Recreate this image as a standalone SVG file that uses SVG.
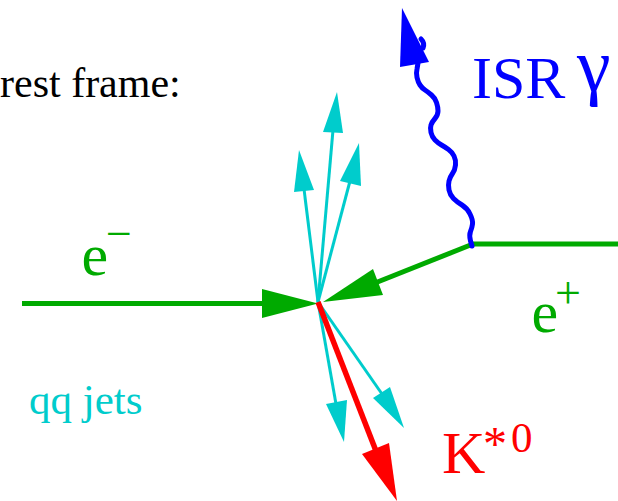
<svg xmlns="http://www.w3.org/2000/svg" width="618" height="501" viewBox="0 0 618 501">
<style>
text{font-family:"Liberation Serif","Times New Roman",serif}
.g{stroke:#00aa00;stroke-width:5;fill:none}
.gf{fill:#00aa00}
.c{stroke:#00cccc;stroke-width:3;fill:none}
.cf{fill:#00cccc}
.r{stroke:#ff0000;stroke-width:5.5;fill:none}
.rf{fill:#ff0000}
.b{stroke:#0000ff;stroke-width:5;fill:none;stroke-linecap:round;stroke-linejoin:round}
.bf{fill:#0000ff}
</style>
<rect width="618" height="501" fill="#ffffff"/>
<g id="connectors">
  <!-- e- beam -->
  <line class="g" x1="22" y1="303.5" x2="270" y2="303.5"/>
  <polygon class="gf" points="262,289 262,318 318,303.5"/>
  <!-- e+ beam -->
  <line class="g" x1="472" y1="244" x2="618" y2="244"/>
  <line class="g" x1="473" y1="244" x2="375" y2="283"/>
  <polygon class="gf" points="373,269 383,295 323,302"/>
  <!-- ISR photon -->
  <path class="b" d="M 472 246 L 470.5 241 Q 469 235 470.5 231.5 Q 472 228 472.5 224 Q 473 220 470 214 Q 467 208 462 205 Q 457 202 453.5 198.5 Q 450 195 449 190 Q 448 185 449 181 Q 450 177 452.5 173.5 Q 455 170 455.5 165 Q 456 160 454 156 Q 452 152 448.5 149.5 Q 445 147 441.5 145 Q 438 143 435 140 Q 432 137 431 132.5 Q 430 128 431 125 Q 432 122 435 118.5 Q 438 115 438 111 Q 438 107 436.5 102.5 Q 435 98 431.5 95 Q 428 92 425 90 Q 422 88 420 85 Q 418 82 417 77.5 Q 416 73 417 69 L 418 63"/>
  <polygon class="bf" points="402,8 400,67 429,62"/>
  <path class="b" d="M 421 39 Q 425 43 423 48" stroke-width="2.5"/>
  <!-- jets -->
  <line class="c" x1="318" y1="302" x2="333" y2="130"/>
  <polygon class="cf" points="337,92 323,132 343,133"/>
  <line class="c" x1="318" y1="302" x2="304" y2="189"/>
  <polygon class="cf" points="299,150 294,192 314,190"/>
  <line class="c" x1="318" y1="302" x2="350" y2="181"/>
  <polygon class="cf" points="359,143 340,181 361,186"/>
  <line class="c" x1="318" y1="302" x2="336" y2="404"/>
  <polygon class="cf" points="344,442 326,404 347,400"/>
  <line class="c" x1="318" y1="302" x2="382" y2="394"/>
  <polygon class="cf" points="404,428 373,398 390,387"/>
  <!-- K*0 -->
  <line class="r" x1="318" y1="302" x2="376" y2="451"/>
  <polygon class="rf" points="397,501 362,454 389,443"/>
</g>
<g id="title">
  <text x="0" y="97" font-size="42" fill="#000000">rest frame:</text>
</g>
<g id="isr-gamma">
  <text x="472" y="98" font-size="60" fill="#0000ff">ISR<tspan x="577" y="91" font-size="76">γ</tspan></text>
</g>
<g id="e-minus">
  <text x="81.5" y="275" font-size="60" fill="#00aa00">e<tspan x="106" y="248.5" font-size="46">−</tspan></text>
</g>
<g id="e-plus">
  <text x="531.5" y="332" font-size="60" fill="#00aa00">e<tspan x="555" y="307.5" font-size="46">+</tspan></text>
</g>
<g id="qq-jets">
  <text x="29" y="414" font-size="43" fill="#00cccc">qq jets</text>
</g>
<g id="kstar0">
  <text x="442" y="473" font-size="60" fill="#ff0000">K<tspan x="483" y="460" font-size="48">*</tspan><tspan x="511" y="452" font-size="43">0</tspan></text>
</g>
</svg>
